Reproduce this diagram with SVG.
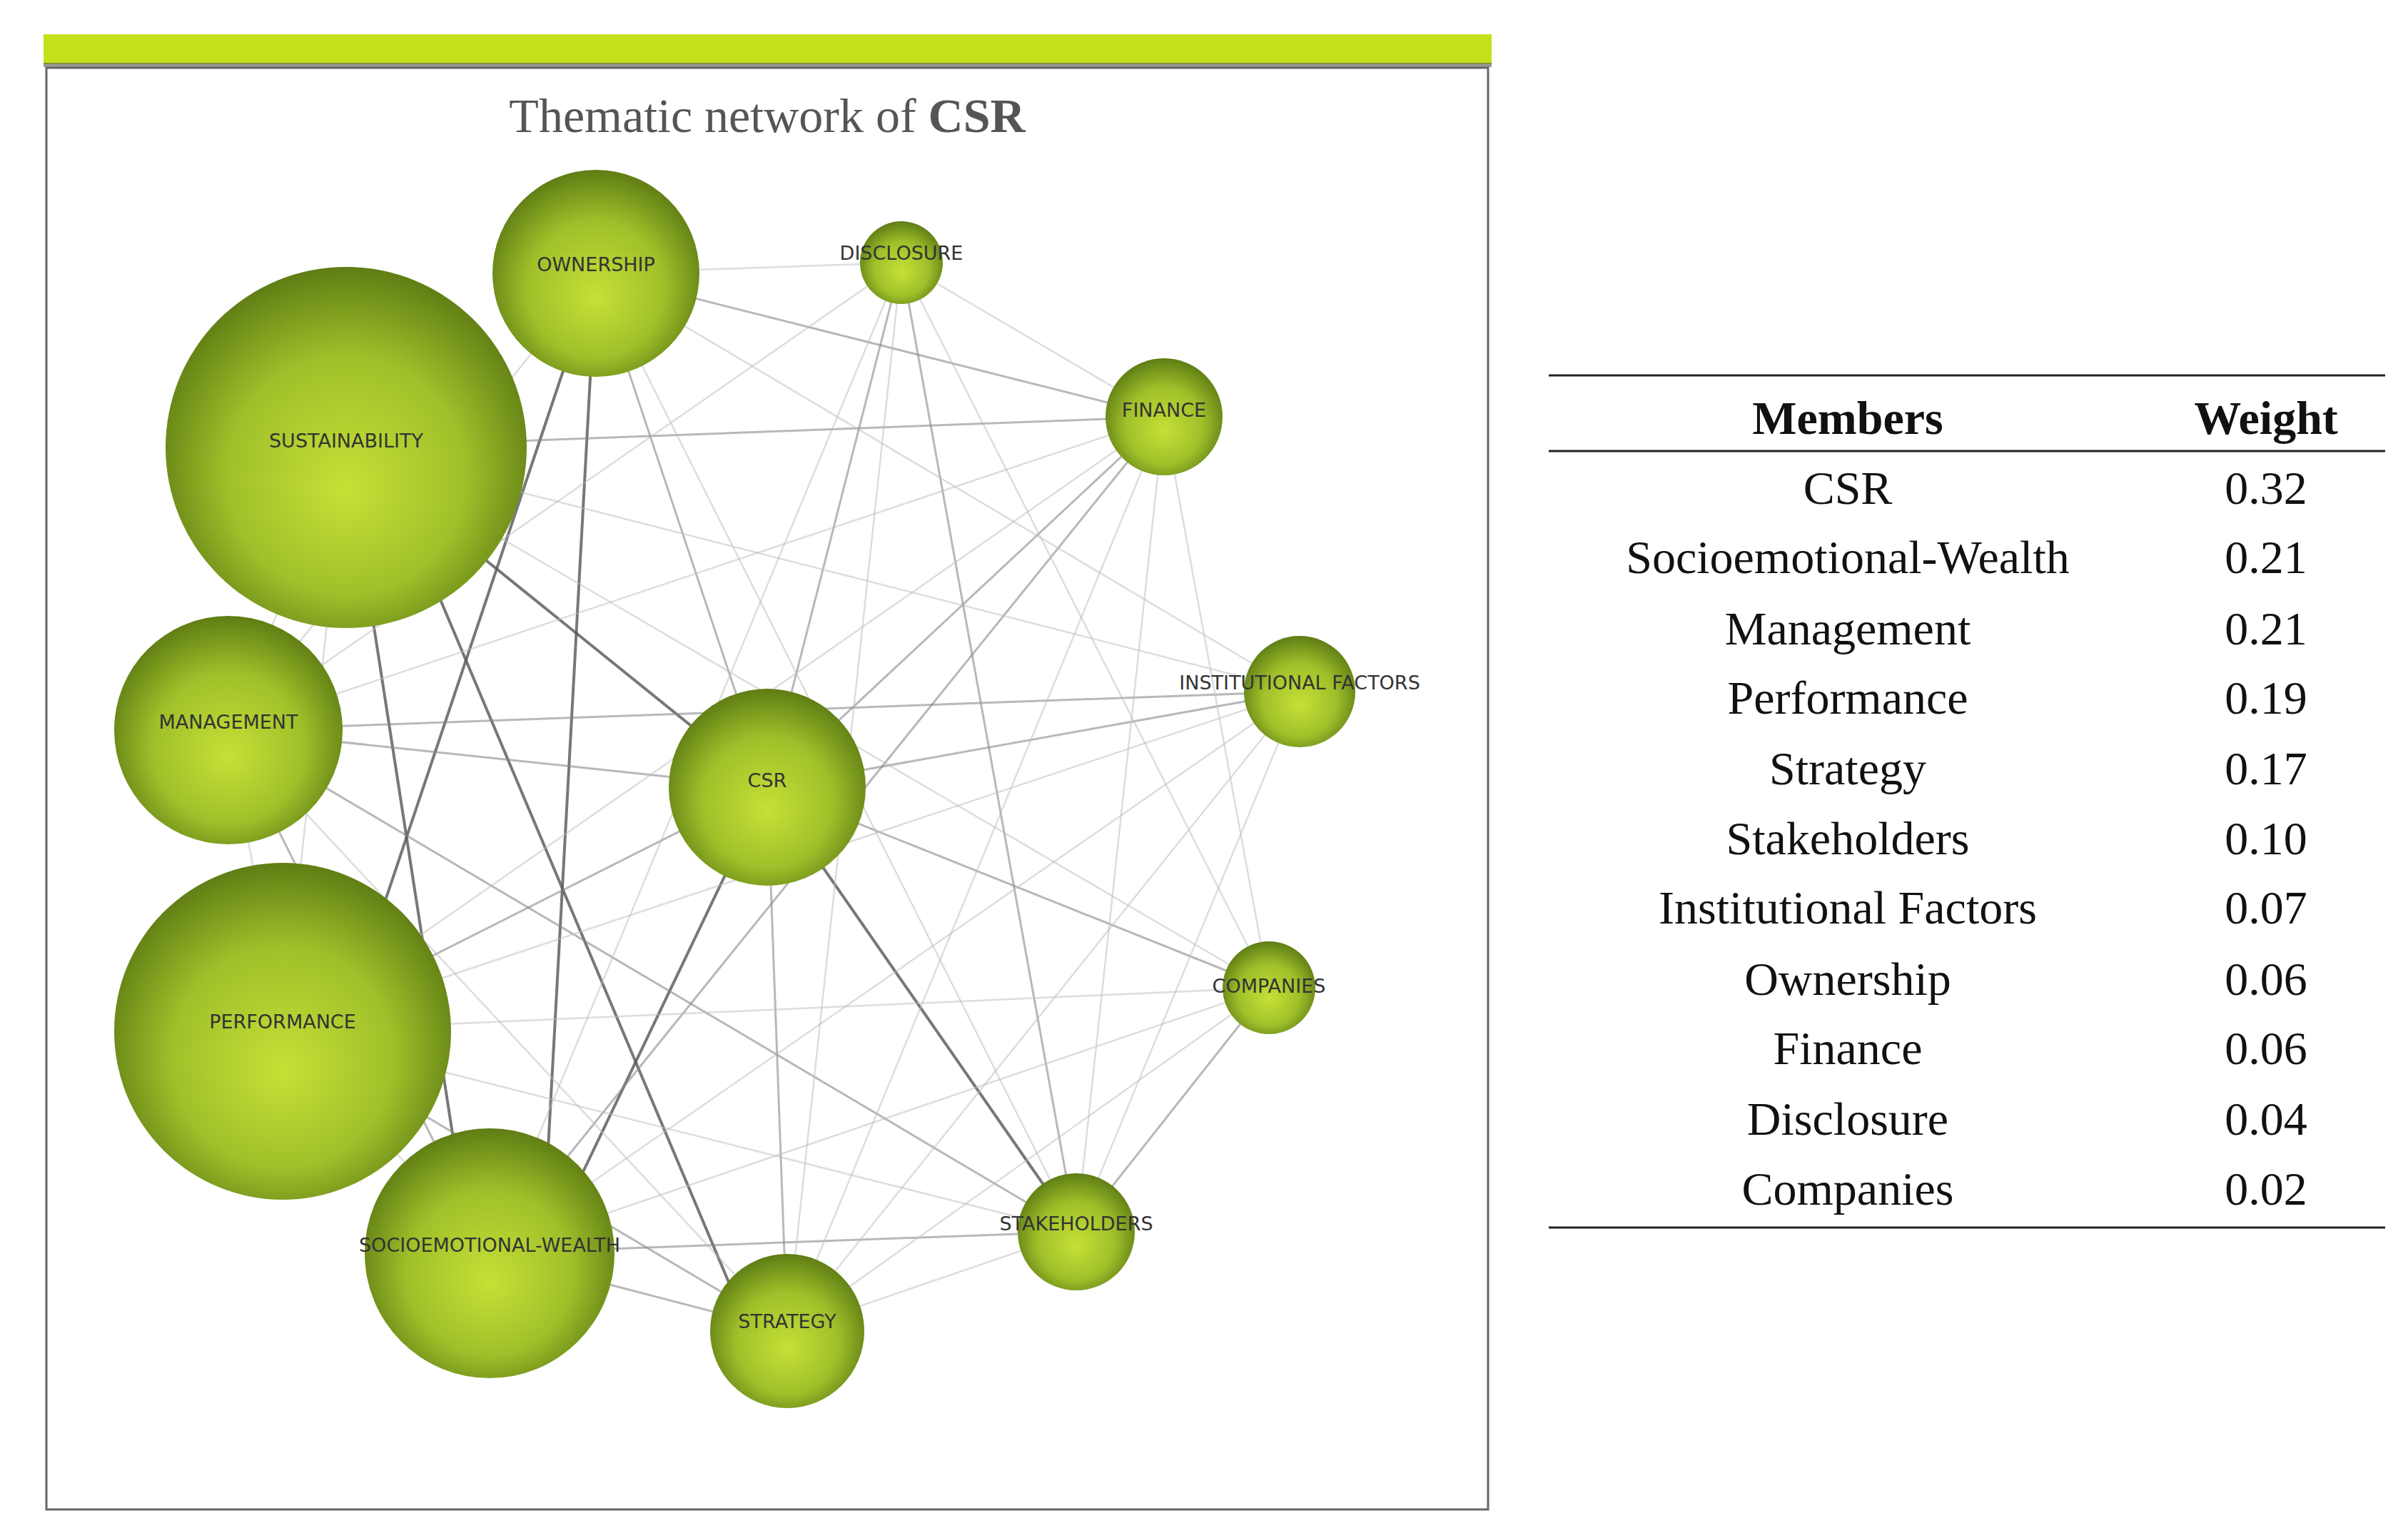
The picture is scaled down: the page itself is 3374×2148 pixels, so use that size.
<svg xmlns="http://www.w3.org/2000/svg" width="3374" height="2148" viewBox="0 0 3374 2148">
<style>
.n{stroke:none}
.lab{font-family:"DejaVu Sans",Verdana,sans-serif;font-size:27px;fill:#333;text-anchor:middle;dominant-baseline:middle}
.t{font-family:"Liberation Serif",serif;font-size:66px;fill:#111;text-anchor:middle}
.e1{stroke:#555;stroke-width:4;opacity:.8}
.e2{stroke:#888;stroke-width:3;opacity:.6}
.e3{stroke:#bbb;stroke-width:2.5;opacity:.5}
</style>
<defs>
<radialGradient id="g" cx="0.5" cy="0.55" r="0.55" fx="0.5" fy="0.62">
<stop offset="0" stop-color="#c6e036"/><stop offset="0.6" stop-color="#9fc02a"/><stop offset="1" stop-color="#5f7d14"/>
</radialGradient>
</defs>
<rect width="3374" height="2148" fill="#fff"/>
<rect x="65" y="95" width="2020" height="2020" fill="#fff" stroke="#666" stroke-width="3"/>
<rect x="61" y="48" width="2029" height="42" fill="#c5e01a"/>
<rect x="61" y="88" width="2029" height="6" fill="#555" opacity=".6"/>
<text x="1075" y="185" font-family="Liberation Serif,serif" font-size="68" fill="#555" text-anchor="middle">Thematic network of <tspan font-weight="bold">CSR</tspan></text>
<g id="edges" fill="none">
<line class="e1" x1="485" y1="627" x2="1075" y2="1103"/>
<line class="e1" x1="835" y1="383" x2="760" y2="1756"/>
<line class="e1" x1="835" y1="383" x2="480" y2="1440"/>
<line class="e1" x1="1075" y1="1103" x2="1508" y2="1726"/>
<line class="e1" x1="1075" y1="1103" x2="770" y2="1740"/>
<line class="e1" x1="485" y1="627" x2="660" y2="1756"/>
<line class="e1" x1="600" y1="800" x2="1050" y2="1865"/>
<line class="e2" x1="320" y1="1023" x2="1075" y2="1103"/>
<line class="e2" x1="396" y1="1445" x2="1075" y2="1103"/>
<line class="e2" x1="835" y1="383" x2="1075" y2="1103"/>
<line class="e2" x1="1263" y1="368" x2="1508" y2="1726"/>
<line class="e2" x1="1263" y1="368" x2="1075" y2="1103"/>
<line class="e2" x1="1821" y1="969" x2="1075" y2="1103"/>
<line class="e2" x1="1075" y1="1103" x2="1103" y2="1865"/>
<line class="e2" x1="686" y1="1756" x2="1508" y2="1726"/>
<line class="e2" x1="686" y1="1756" x2="1103" y2="1865"/>
<line class="e2" x1="1778" y1="1384" x2="1508" y2="1726"/>
<line class="e2" x1="320" y1="1023" x2="1508" y2="1726"/>
<line class="e2" x1="1631" y1="584" x2="686" y2="1756"/>
<line class="e2" x1="1631" y1="584" x2="1075" y2="1103"/>
<line class="e2" x1="320" y1="1023" x2="686" y2="1756"/>
<line class="e2" x1="396" y1="1445" x2="1103" y2="1865"/>
<line class="e2" x1="1075" y1="1103" x2="1778" y2="1384"/>
<line class="e2" x1="835" y1="383" x2="1631" y2="584"/>
<line class="e2" x1="485" y1="627" x2="1631" y2="584"/>
<line class="e2" x1="320" y1="1023" x2="1821" y2="969"/>
<line class="e3" x1="485" y1="627" x2="1821" y2="969"/>
<line class="e3" x1="485" y1="627" x2="1778" y2="1384"/>
<line class="e3" x1="835" y1="383" x2="1263" y2="368"/>
<line class="e3" x1="835" y1="383" x2="1508" y2="1726"/>
<line class="e3" x1="835" y1="383" x2="1821" y2="969"/>
<line class="e3" x1="1263" y1="368" x2="1631" y2="584"/>
<line class="e3" x1="1263" y1="368" x2="686" y2="1756"/>
<line class="e3" x1="1263" y1="368" x2="1103" y2="1865"/>
<line class="e3" x1="1631" y1="584" x2="1508" y2="1726"/>
<line class="e3" x1="1631" y1="584" x2="1778" y2="1384"/>
<line class="e3" x1="1631" y1="584" x2="1103" y2="1865"/>
<line class="e3" x1="1631" y1="584" x2="320" y2="1023"/>
<line class="e3" x1="1631" y1="584" x2="396" y2="1445"/>
<line class="e3" x1="1821" y1="969" x2="686" y2="1756"/>
<line class="e3" x1="1821" y1="969" x2="1103" y2="1865"/>
<line class="e3" x1="1821" y1="969" x2="1508" y2="1726"/>
<line class="e3" x1="1821" y1="969" x2="396" y2="1445"/>
<line class="e3" x1="1778" y1="1384" x2="686" y2="1756"/>
<line class="e3" x1="1778" y1="1384" x2="396" y2="1445"/>
<line class="e3" x1="1778" y1="1384" x2="1103" y2="1865"/>
<line class="e3" x1="1508" y1="1726" x2="1103" y2="1865"/>
<line class="e3" x1="1508" y1="1726" x2="396" y2="1445"/>
<line class="e3" x1="485" y1="627" x2="320" y2="1023"/>
<line class="e3" x1="320" y1="1023" x2="396" y2="1445"/>
<line class="e3" x1="485" y1="627" x2="396" y2="1445"/>
<line class="e3" x1="320" y1="1023" x2="835" y2="383"/>
<line class="e3" x1="396" y1="1445" x2="686" y2="1756"/>
<line class="e3" x1="320" y1="1023" x2="1103" y2="1865"/>
<line class="e3" x1="1263" y1="368" x2="320" y2="1023"/>
<line class="e3" x1="1263" y1="368" x2="1778" y2="1384"/>
</g>
<g id="n-sustainability"><circle class="n" cx="485" cy="627" r="253" fill="url(#g)"/><text class="lab" x="485" y="619">SUSTAINABILITY</text></g>
<g id="n-ownership"><circle class="n" cx="835" cy="383" r="145" fill="url(#g)"/><text class="lab" x="835" y="372">OWNERSHIP</text></g>
<g id="n-disclosure"><circle class="n" cx="1263" cy="368" r="58" fill="url(#g)"/><text class="lab" x="1263" y="356">DISCLOSURE</text></g>
<g id="n-finance"><circle class="n" cx="1631" cy="584" r="82" fill="url(#g)"/><text class="lab" x="1631" y="576">FINANCE</text></g>
<g id="n-institutional"><circle class="n" cx="1821" cy="969" r="78" fill="url(#g)"/><text class="lab" x="1821" y="958">INSTITUTIONAL FACTORS</text></g>
<g id="n-companies"><circle class="n" cx="1778" cy="1384" r="65" fill="url(#g)"/><text class="lab" x="1778" y="1383">COMPANIES</text></g>
<g id="n-stakeholders"><circle class="n" cx="1508" cy="1726" r="82" fill="url(#g)"/><text class="lab" x="1508" y="1716">STAKEHOLDERS</text></g>
<g id="n-strategy"><circle class="n" cx="1103" cy="1865" r="108" fill="url(#g)"/><text class="lab" x="1103" y="1853">STRATEGY</text></g>
<g id="n-socioemotional"><circle class="n" cx="686" cy="1756" r="175" fill="url(#g)"/><text class="lab" x="686" y="1746">SOCIOEMOTIONAL-WEALTH</text></g>
<g id="n-performance"><circle class="n" cx="396" cy="1445" r="236" fill="url(#g)"/><text class="lab" x="396" y="1433">PERFORMANCE</text></g>
<g id="n-management"><circle class="n" cx="320" cy="1023" r="160" fill="url(#g)"/><text class="lab" x="320" y="1013">MANAGEMENT</text></g>
<g id="n-csr"><circle class="n" cx="1075" cy="1103" r="138" fill="url(#g)"/><text class="lab" x="1075" y="1095">CSR</text></g>
<g id="table">
<line x1="2170" y1="526" x2="3342" y2="526" stroke="#222" stroke-width="3"/>
<line x1="2170" y1="632" x2="3342" y2="632" stroke="#222" stroke-width="3"/>
<line x1="2170" y1="1720" x2="3342" y2="1720" stroke="#222" stroke-width="3"/>
<text class="t" x="2589" y="608" font-weight="bold">Members</text>
<text class="t" x="3175" y="608" font-weight="bold">Weight</text>
<text class="t" x="2589" y="706">CSR</text><text class="t" x="3175" y="706">0.32</text>
<text class="t" x="2589" y="803">Socioemotional-Wealth</text><text class="t" x="3175" y="803">0.21</text>
<text class="t" x="2589" y="903">Management</text><text class="t" x="3175" y="903">0.21</text>
<text class="t" x="2589" y="1000">Performance</text><text class="t" x="3175" y="1000">0.19</text>
<text class="t" x="2589" y="1099">Strategy</text><text class="t" x="3175" y="1099">0.17</text>
<text class="t" x="2589" y="1197">Stakeholders</text><text class="t" x="3175" y="1197">0.10</text>
<text class="t" x="2589" y="1294">Institutional Factors</text><text class="t" x="3175" y="1294">0.07</text>
<text class="t" x="2589" y="1394">Ownership</text><text class="t" x="3175" y="1394">0.06</text>
<text class="t" x="2589" y="1491">Finance</text><text class="t" x="3175" y="1491">0.06</text>
<text class="t" x="2589" y="1590">Disclosure</text><text class="t" x="3175" y="1590">0.04</text>
<text class="t" x="2589" y="1688">Companies</text><text class="t" x="3175" y="1688">0.02</text>
</g>
</svg>
